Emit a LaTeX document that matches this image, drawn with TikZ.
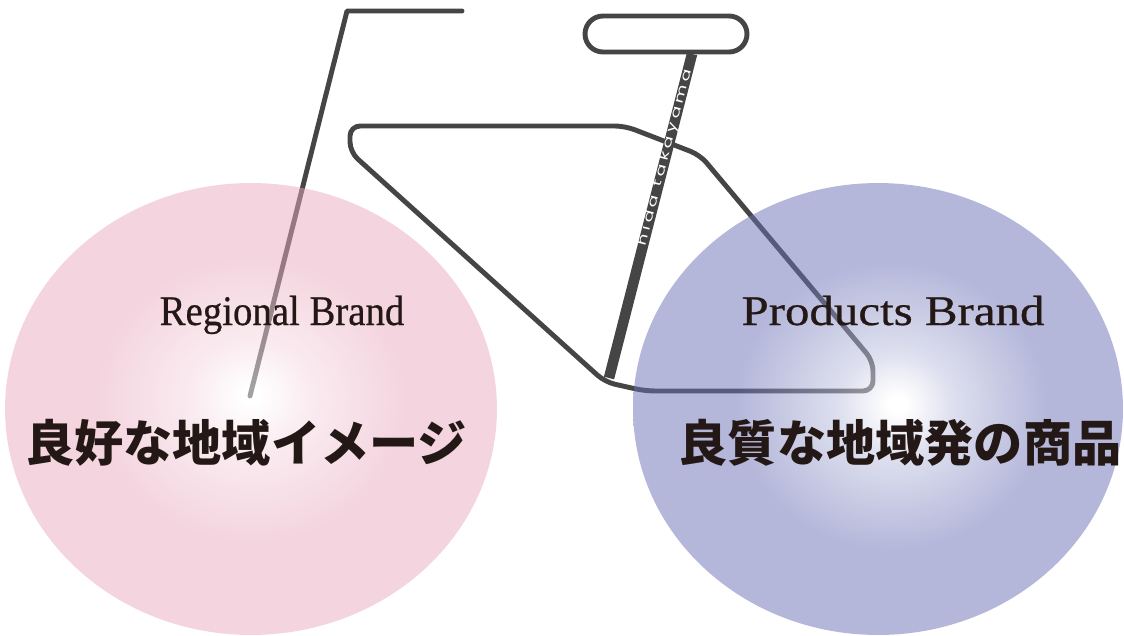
\documentclass[tikz,border=0pt]{standalone}
\usepackage{fontspec}
\usepackage{graphicx}
\setmainfont{Liberation Serif}
\newfontfamily\brandfont{Liberation Serif}[FakeBold=0.6]
\newfontfamily\jpfont{Noto Sans CJK JP}
\newfontfamily\postfont[LetterSpace=20]{Poppins}
\usetikzlibrary{calc}

\definecolor{framegray}{RGB}{69,69,69}
\definecolor{inkdark}{RGB}{35,24,21}
\definecolor{pinkbase}{RGB}{233,169,191}
\definecolor{bluebase}{RGB}{105,111,181}

% soft glows, the bright spot sits a little off centre
\pgfdeclareradialshading{pinkglow}{\pgfpoint{0bp}{1.5bp}}{color(0bp)=(white); color(1bp)=(white); color(6bp)=(pinkbase!45!white); color(16bp)=(pinkbase); color(50bp)=(pinkbase)}
\pgfdeclareradialshading{blueglow}{\pgfpoint{2bp}{0.5bp}}{color(0bp)=(white); color(1bp)=(white); color(6bp)=(bluebase!45!white); color(16bp)=(bluebase); color(50bp)=(bluebase)}

\begin{document}
\begin{tikzpicture}[x=0.02cm, y=-0.02cm,
    bike/.style={draw=framegray, line width=2.8pt, line cap=round, line join=round},
    brand/.style={font=\brandfont\fontsize{24}{28}\selectfont, text=inkdark, anchor=base, inner sep=0pt},
    slogan/.style={font=\jpfont\bfseries\fontsize{28}{32}\selectfont, text=inkdark, inner sep=0pt},
    postlabel/.style={font=\postfont\fontsize{7}{8}\selectfont, text=white, inner sep=0pt}]
    \useasboundingbox (0,0) rectangle (1124,635);

    % handlebar and stem
    \coordinate (barend) at (462,11);
    \coordinate (stemtop) at (347,11);
    \coordinate (hub) at (250,396);
    \draw[bike] (barend) -- (stemtop) -- (hub);

    % saddle
    \draw[bike, rounded corners=0.36cm] (585,16) rectangle (747,52);

    % frame
    \draw[bike, rounded corners=0.2cm] (625,126) -- (350,126) -- (350,152)
        -- (605,382) -- (645,391) -- (873,391) -- (873,361) -- (700,155) -- cycle;

    % seat post with its lettering
    \coordinate (posttop) at (692,54);
    \coordinate (postfoot) at (609,378);
    \draw[draw=framegray, line width=6pt] (postfoot) -- (posttop);
    \node[postlabel, rotate=75.6] (maker) at ($(postfoot)!0.68!(posttop)$)
        {\scalebox{1.5}[1]{hida takayama}};

    % the two wheels
    \shade[shading=pinkglow, fill opacity=0.5] (251,409) ellipse [x radius=4.92cm, y radius=4.52cm];
    \shade[shading=blueglow, fill opacity=0.5] (878,409) ellipse [x radius=4.9cm, y radius=4.52cm];

    \node[brand] (regional) at (282,325) {\scalebox{0.92}[1]{Regional Brand}};
    \node[brand] (products) at (893,325) {\scalebox{1.16}[1]{Products Brand}};
    \node[slogan] (image) at (246,443) {良好な地域イメージ};
    \node[slogan] (goods) at (900,443) {良質な地域発の商品};
\end{tikzpicture}
\end{document}
